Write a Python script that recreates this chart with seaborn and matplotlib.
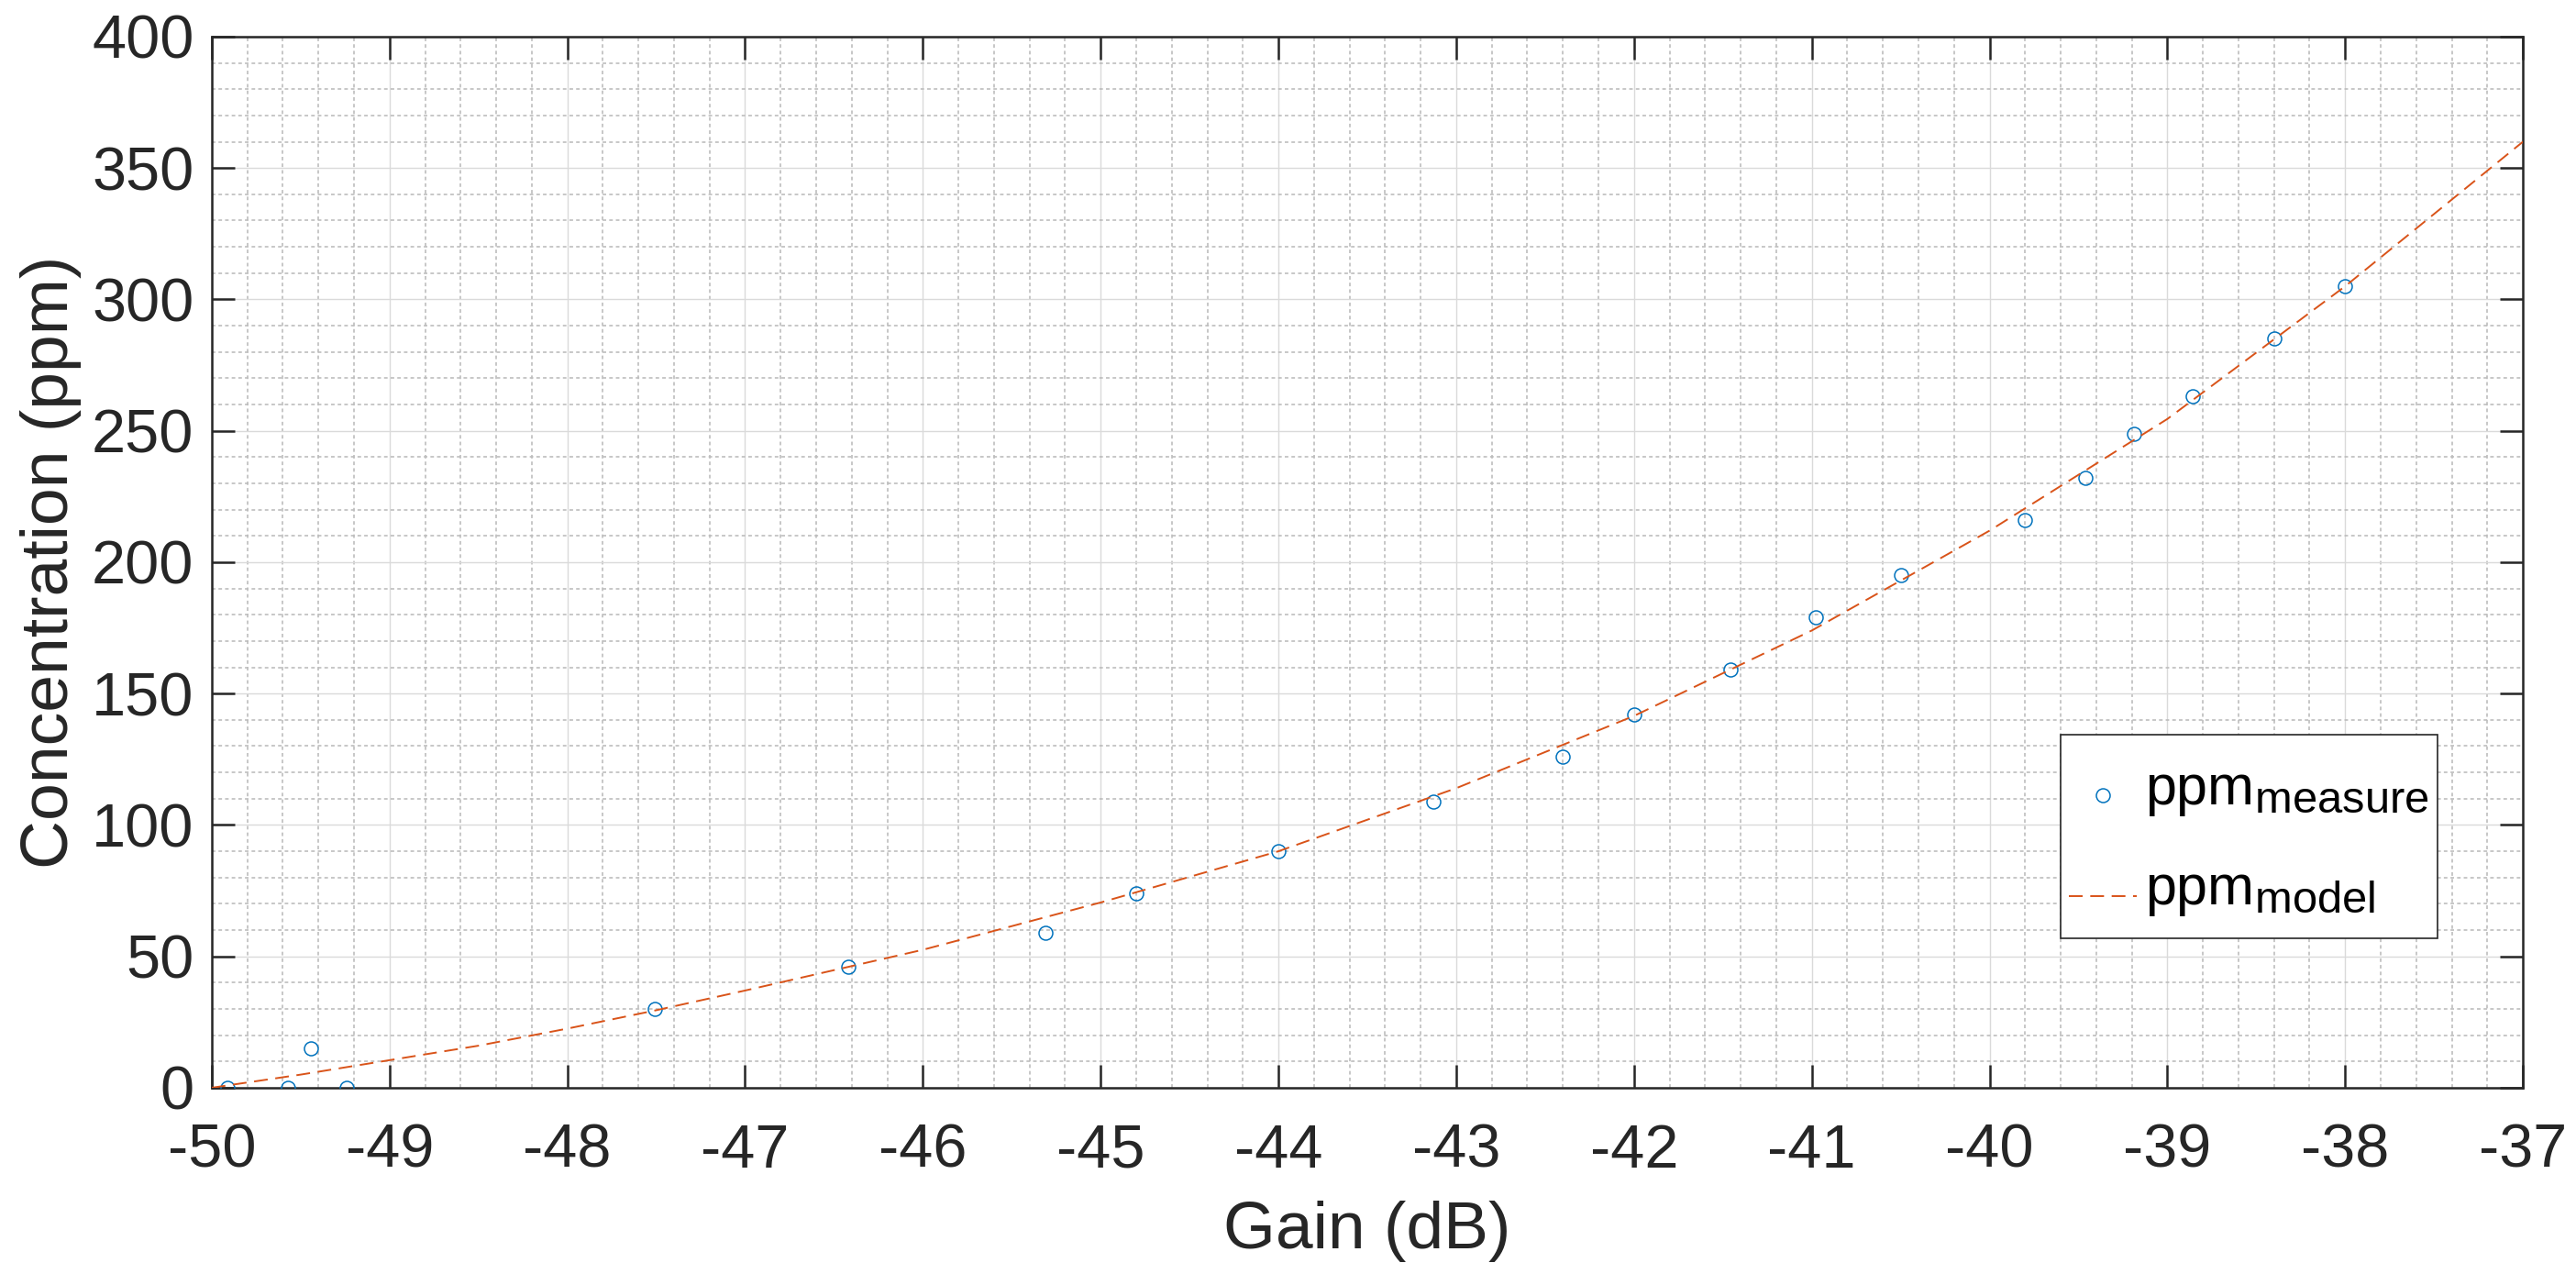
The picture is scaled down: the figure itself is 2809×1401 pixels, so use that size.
import matplotlib
matplotlib.use("Agg")
import matplotlib.pyplot as plt
from matplotlib.ticker import MultipleLocator
import matplotlib._mathtext as _mt
import numpy as np
import seaborn as sns
import pandas as pd

# ---- data ----
meas_x = [-49.91, -49.57, -49.44, -49.24, -47.51, -46.42, -45.31, -44.80, -44.00,
          -43.13, -42.40, -42.00, -41.46, -40.98, -40.50, -39.80, -39.46, -39.19,
          -38.86, -38.40, -38.00]
meas_y = [0, 0, 15, 0, 30, 46, 59, 74, 90, 109, 126, 142, 159, 179, 195, 216,
          232, 249, 263, 285, 305]

model_x = [-50, -49.5, -49, -48.5, -48, -47.5, -47, -46, -45, -44, -43, -42,
           -41, -40, -39, -38, -37]
model_y = [0, 5, 10.5, 16, 22.5, 29.5, 37, 52.5, 70.5, 90, 114, 141.5, 174,
           212, 254.5, 305, 360]

x_ticks = list(range(-50, -36))
y_ticks = list(range(0, 401, 50))
label_measure = r"ppm$_{\mathregular{measure}}$"
label_model = r"ppm$_{\mathregular{model}}$"

# larger subscripts, like the reference
_mt.SHRINK_FACTOR = 0.8

sns.set_style("ticks")
plt.rcParams["font.family"] = ["Liberation Sans", "DejaVu Sans"]
plt.rcParams["mathtext.fontset"] = "custom"
plt.rcParams["mathtext.rm"] = "Liberation Sans"
plt.rcParams["mathtext.it"] = "Liberation Sans:italic"
plt.rcParams["mathtext.bf"] = "Liberation Sans:bold"
plt.rcParams["lines.scale_dashes"] = False

dark = "#262626"
fig = plt.figure(figsize=(2809 / 200, 1401 / 200), dpi=200)
ax = fig.add_axes([0.0822, 0.1535, 0.9794 - 0.0822, 0.9715 - 0.1535])

df_meas = pd.DataFrame({"x": meas_x, "y": meas_y})
df_model = pd.DataFrame({"x": model_x, "y": model_y})

sns.lineplot(data=df_meas, x="x", y="y", ax=ax, sort=False, estimator=None,
             linestyle="", marker="o", markersize=5.4, markerfacecolor="none",
             markeredgecolor="#0072BD", markeredgewidth=0.55, color="#0072BD",
             label=label_measure, zorder=3)
sns.lineplot(data=df_model, x="x", y="y", ax=ax, sort=False, estimator=None,
             color="#D95319", linewidth=0.7, linestyle=(0, (5.4, 3.0)),
             label=label_model, zorder=4)

ax.set_xlim(-50, -37)
ax.set_ylim(0, 400)
ax.set_xticks(x_ticks)
ax.set_yticks(y_ticks)
ax.set_xticklabels([str(v) for v in x_ticks])
ax.set_yticklabels([str(v) for v in y_ticks])
ax.xaxis.set_minor_locator(MultipleLocator(0.2))
ax.yaxis.set_minor_locator(MultipleLocator(10))

ax.set_axisbelow(True)
ax.grid(which="minor", color="#bdbdbd", linewidth=0.6, linestyle=(0, (1.4, 1.2)))
ax.grid(which="major", color="#dadada", linewidth=0.5, linestyle="-")

for s in ax.spines.values():
    s.set_visible(True)
    s.set_color(dark)
    s.set_linewidth(0.9)

ax.tick_params(which="major", direction="in", top=True, right=True, length=9,
               width=0.9, color=dark, labelcolor=dark, labelsize=24)
ax.tick_params(axis="x", which="major", pad=14)
ax.tick_params(axis="y", which="major", pad=7)
ax.tick_params(which="minor", length=0, top=True, right=True)

ax.set_xlabel("Gain (dB)", fontsize=26.4, color=dark, labelpad=8)
ax.set_ylabel("Concentration (ppm)", fontsize=26.4, color=dark, labelpad=4)

leg = ax.legend(loc="lower left", bbox_to_anchor=(0.800, 0.142), borderaxespad=0,
                fontsize=22, frameon=True, fancybox=False, framealpha=1,
                edgecolor=dark, handlelength=1.2, handletextpad=0.15,
                handleheight=2.0, labelspacing=0.25, borderpad=0.15)
leg.get_frame().set_linewidth(0.6)
for t in leg.get_texts():
    t.set_color("black")
# sit the legend symbols just above the text baseline, as in the reference
for h in leg.legend_handles:
    yd = np.asarray(h.get_ydata(), dtype=float)
    h.set_ydata(np.full_like(yd, 3.5))

fig.savefig("out.png", dpi=200)
